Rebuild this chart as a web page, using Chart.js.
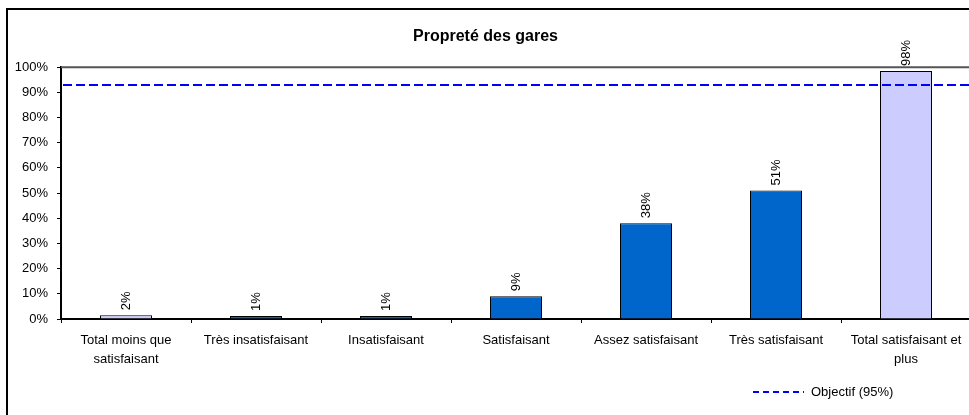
<!DOCTYPE html>
<html>
<head>
<meta charset="utf-8">
<script src="https://cdn.jsdelivr.net/npm/chart.js@4.4.0/dist/chart.umd.min.js"></script>
<style>
  html, body { margin: 0; padding: 0; background: #fff; overflow: hidden; }
  #wrap { position: relative; width: 980px; height: 415px; }
</style>
</head>
<body>
<div id="wrap"><canvas id="chart" width="980" height="415"></canvas></div>
<script>
  const categories = [
    ['Total moins que', 'satisfaisant'],
    'Très insatisfaisant',
    'Insatisfaisant',
    'Satisfaisant',
    'Assez satisfaisant',
    'Très satisfaisant',
    ['Total satisfaisant et', 'plus']
  ];
  const values = [0.015, 0.012, 0.012, 0.09, 0.38, 0.51, 0.985];
  const valueLabels = ['2%', '1%', '1%', '9%', '38%', '51%', '98%'];
  const isTotal = [true, false, false, false, false, false, true];
  const objectiveValue = 0.93;
  const objectiveLabel = 'Objectif (95%)';
  const chartTitle = 'Propreté des gares';

  const fontFamily = 'Arial, "Liberation Sans", sans-serif';

  const decor = {
    id: 'decor',
    beforeDraw(chart) {
      const ctx = chart.ctx;
      ctx.save();
      ctx.fillStyle = '#fff';
      ctx.fillRect(0, 0, chart.width, chart.height);
      ctx.strokeStyle = '#000';
      ctx.lineWidth = 2;
      ctx.strokeRect(7, 9, chart.width + 20, chart.height + 20);
      ctx.restore();
    },
    afterDatasetsDraw(chart) {
      const ctx = chart.ctx;
      const area = chart.chartArea;
      const y = chart.scales.y;
      ctx.save();

      // top border of the plot
      ctx.strokeStyle = '#555';
      ctx.lineWidth = 2;
      ctx.beginPath();
      ctx.moveTo(area.left, area.top);
      ctx.lineTo(area.right, area.top);
      ctx.stroke();

      // objective line
      const oy = Math.round(y.getPixelForValue(objectiveValue));
      ctx.strokeStyle = '#0000ff';
      ctx.lineWidth = 2;
      ctx.setLineDash([9, 4]);
      ctx.beginPath();
      ctx.moveTo(area.left + 2, oy);
      ctx.lineTo(area.right, oy);
      ctx.stroke();

      // value labels, rotated
      ctx.setLineDash([]);
      ctx.fillStyle = '#000';
      ctx.font = '13px ' + fontFamily;
      ctx.textAlign = 'left';
      ctx.textBaseline = 'middle';
      const meta = chart.getDatasetMeta(0);
      meta.data.forEach((bar, i) => {
        ctx.save();
        ctx.translate(bar.x, bar.y - 5);
        ctx.rotate(-Math.PI / 2);
        ctx.fillText(valueLabels[i], 0, 0);
        ctx.restore();
      });

      // legend
      ctx.strokeStyle = '#0000ff';
      ctx.lineWidth = 2;
      ctx.setLineDash([6, 4]);
      ctx.beginPath();
      ctx.moveTo(753, 392);
      ctx.lineTo(804, 392);
      ctx.stroke();
      ctx.setLineDash([]);
      ctx.fillText(objectiveLabel, 811, 392);

      ctx.restore();
    }
  };

  new Chart(document.getElementById('chart'), {
    type: 'bar',
    data: {
      labels: categories,
      datasets: [{
        data: values,
        backgroundColor: isTotal.map(t => t ? '#ccccff' : '#0066cc'),
        borderColor: '#000',
        borderWidth: 1,
        borderSkipped: 'bottom',
        categoryPercentage: 1,
        barPercentage: 0.4
      }]
    },
    options: {
      responsive: false,
      animation: false,
      layout: { padding: { left: 0, right: 9, top: 0, bottom: 0 } },
      plugins: {
        legend: { display: false },
        tooltip: { enabled: false },
        title: {
          display: true,
          text: chartTitle,
          color: '#000',
          font: { family: fontFamily, size: 16, weight: 'bold' },
          padding: { top: 27, bottom: 21 }
        }
      },
      scales: {
        x: {
          offset: true,
          grid: {
            offset: true,
            drawOnChartArea: false,
            drawTicks: true,
            tickLength: 4,
            color: '#000',
            lineWidth: 1
          },
          border: { color: '#000', width: 2 },
          ticks: {
            color: '#000',
            font: { family: fontFamily, size: 13, lineHeight: 1.45 },
            padding: 8,
            maxRotation: 0,
            autoSkip: false
          },
          afterFit(scale) { scale.height = 96; }
        },
        y: {
          min: 0,
          max: 1,
          grid: {
            drawOnChartArea: false,
            drawTicks: true,
            tickLength: 4,
            color: '#000'
          },
          border: { color: '#000', width: 2 },
          ticks: {
            stepSize: 0.1,
            color: '#000',
            font: { family: fontFamily, size: 13 },
            padding: 9,
            callback: v => Math.round(v * 100) + '%'
          },
          afterFit(scale) { scale.width = 61; }
        }
      }
    },
    plugins: [decor]
  });
</script>
</body>
</html>
